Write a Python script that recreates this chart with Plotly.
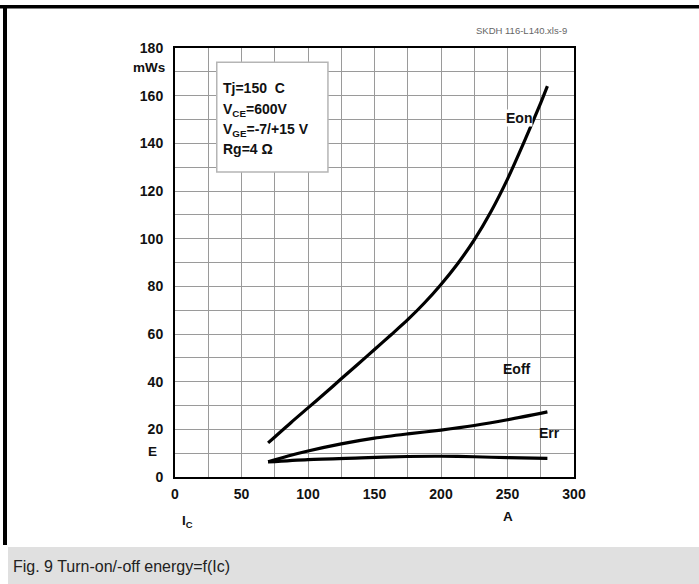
import plotly.graph_objects as go

# ---- data ----
eon_ic = [70, 87.5, 100, 112.5, 125, 137.5, 150, 162.5, 175, 187.5, 200, 212.5, 225, 237.5,
          250, 262.5, 275, 280]
eon_e = [14.3, 23, 29, 35, 41.2, 47.3, 53.5, 59.7, 66, 73, 80.8, 89.5, 99.5, 111.3,
         125, 140.6, 157, 164]
eoff_ic = [70, 85, 100, 125, 150, 175, 200, 225, 250, 280]
eoff_e = [6.4, 8.8, 10.9, 13.9, 16.3, 18.1, 19.7, 21.6, 24.0, 27.3]
err_ic = [70, 100, 140, 175, 200, 225, 250, 280]
err_e = [6.3, 7.3, 8.0, 8.6, 8.7, 8.5, 8.1, 7.8]
x_ticks = [0, 50, 100, 150, 200, 250, 300]
y_ticks = [0, 20, 40, 60, 80, 100, 120, 140, 160, 180]

W, H = 699, 584
L, R, T, B = 175, 574, 48, 477
FONT = "Arial, Liberation Sans, sans-serif"


def px(x):
    return (x - L) / (R - L)


def py(y):
    return (B - y) / (B - T)


fig = go.Figure()
for xs, ys in [(eon_ic, eon_e), (eoff_ic, eoff_e), (err_ic, err_e)]:
    fig.add_trace(go.Scatter(x=xs, y=ys, mode="lines",
                             line=dict(color="black", width=3.2, shape="spline", smoothing=0.8),
                             showlegend=False, hoverinfo="skip"))

axis_common = dict(showline=True, linecolor="black", linewidth=2, mirror=True,
                   showgrid=True, gridcolor="#9a9a9a", gridwidth=1, zeroline=False,
                   ticks="", tickfont=dict(family=FONT, size=14, color="#111", weight="bold"))

fig.update_xaxes(range=[0, 300], tickvals=x_ticks, ticktext=[str(v) for v in x_ticks],
                 minor=dict(dtick=25, showgrid=True, gridcolor="#9a9a9a", gridwidth=1),
                 ticklabelstandoff=3, **axis_common)
fig.update_yaxes(range=[0, 180], tickvals=y_ticks, ticktext=[str(v) for v in y_ticks],
                 minor=dict(dtick=10, showgrid=True, gridcolor="#9a9a9a", gridwidth=1),
                 ticklabelstandoff=7, **axis_common)

shapes = [
    # parameter box
    dict(type="rect", xref="x", yref="y", x0=31.4, x1=115, y0=128, y1=174,
         fillcolor="white", line=dict(color="#b5b5b5", width=1.5), layer="above"),
    # top frame line
    dict(type="rect", xref="paper", yref="paper", x0=px(0), x1=px(W), y0=py(5), y1=py(8.5),
         fillcolor="black", line=dict(width=0)),
    # left frame line
    dict(type="rect", xref="paper", yref="paper", x0=px(3), x1=px(7), y0=py(5), y1=py(545),
         fillcolor="black", line=dict(width=0)),
    # caption bar
    dict(type="rect", xref="paper", yref="paper", x0=px(8), x1=px(W), y0=py(547), y1=py(H + 2),
         fillcolor="#e0e0e0", line=dict(width=0)),
]

bold = dict(family=FONT, size=14, color="#111", weight="bold")
lbl = dict(family=FONT, size=13.5, color="#111", weight="bold")


def note(x, y, text, font, xanchor="center", **kw):
    return dict(xref="paper", yref="paper", x=px(x), y=py(y), text=text,
                xanchor=xanchor, yanchor="middle", showarrow=False, font=font, **kw)


ann = []
box_lines = [("Tj=150  C", 88), ("V<sub>CE</sub>=600V", 110),
             ("V<sub>GE</sub>=-7/+15 V", 130), ("Rg=4 Ω", 149)]
for txt, yy in box_lines:
    ann.append(note(221, yy, txt, bold, xanchor="left"))

ann += [
    note(519, 118, "Eon", bold, bgcolor="white", borderpad=0),
    note(517, 369, "Eoff", bold),
    note(549, 433, "Err", bold),
    note(149, 67, "mWs", lbl),
    note(152, 451, "E", lbl),
    note(180, 521, "I<sub>C</sub>", lbl, xanchor="left"),
    note(508, 516, "A", lbl),
    note(521, 30, "SKDH 116-L140.xls-9", dict(family=FONT, size=9.5, color="#666")),
    note(11, 566, "Fig. 9 Turn-on/-off energy=f(Ic)", dict(family=FONT, size=16, color="#222"),
         xanchor="left"),
]

fig.update_layout(width=W, height=H, margin=dict(l=L, r=W - R, t=T, b=H - B),
                  paper_bgcolor="white", plot_bgcolor="white",
                  shapes=shapes, annotations=ann, showlegend=False)

fig.write_html("out.html", config={"displayModeBar": False},
               post_script="document.body.style.margin='0';document.body.style.overflow='hidden';")
